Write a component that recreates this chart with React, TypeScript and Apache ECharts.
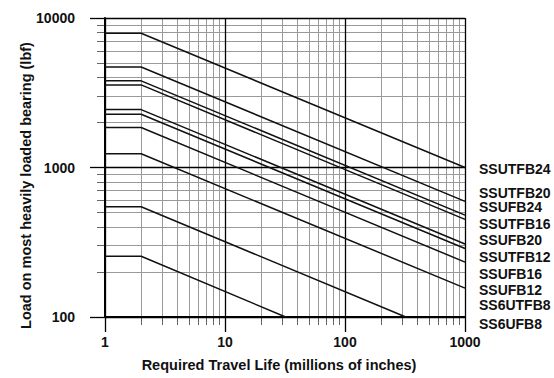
import { useEffect, useRef } from "react";
import * as echarts from "echarts";

// ---- data ----
const modelNames = [
  "SSUTFB24",
  "SSUTFB20",
  "SSUFB24",
  "SSUTFB16",
  "SSUFB20",
  "SSUTFB12",
  "SSUFB16",
  "SSUFB12",
  "SS6UTFB8",
  "SS6UFB8",
];
const startLife = 1; // millions of inches
const kneeLife = 2; // millions of inches
const flatLoad = [7900, 4700, 3800, 3570, 2440, 2270, 1850, 1235, 546, 255];
const endLife = [1000, 1000, 1000, 1000, 1000, 1000, 1000, 1000, 321, 32];
const endLoad = [1000, 594, 480, 450, 308, 287, 233, 156, 100, 100];

const xMinorTicks = [2, 3, 4, 5, 6, 7, 8, 9, 20, 30, 40, 50, 60, 70, 80, 90, 200, 300, 400, 500, 600, 700, 800, 900];
const yMinorTicks = [200, 300, 400, 500, 600, 700, 800, 900, 2000, 3000, 4000, 5000, 6000, 7000, 8000, 9000];

const xTitle = "Required Travel Life (millions of inches)";
const yTitle = "Load on most heavily loaded bearing (lbf)";

// ---- layout (pixel positions of the right-hand annotation labels) ----
const labelYPx = [168.5, 192.5, 207, 223.5, 240, 256.5, 274, 289.5, 304.5, 324];

const FONT = "'Liberation Sans', Arial, sans-serif";

export default function App() {
  const ref = useRef<HTMLDivElement>(null);

  useEffect(() => {
    if (!ref.current) return;
    const chart = echarts.init(ref.current, undefined, { renderer: "svg" });

    const grid = { left: 105, top: 18, width: 360, height: 299, containLabel: false };

    const series = modelNames.map((name, i) => ({
      type: "line" as const,
      name,
      xAxisIndex: 0,
      yAxisIndex: 0,
      showSymbol: false,
      symbol: "none",
      silent: true,
      z: 5,
      lineStyle: { color: "#111", width: 1.5 },
      data: [
        [startLife, flatLoad[i]],
        [kneeLife, flatLoad[i]],
        [endLife[i], endLoad[i]],
      ],
    }));

    const graphic: any[] = modelNames.map((name, i) => ({
      type: "text",
      x: 479,
      y: labelYPx[i],
      silent: true,
      style: {
        text: name,
        font: `bold 14px ${FONT}`,
        fill: "#111",
        textAlign: "left",
        textVerticalAlign: "middle",
      },
    }));
    graphic.push({
      type: "text",
      x: 279,
      y: 365,
      silent: true,
      style: {
        text: xTitle,
        font: `bold 14.5px ${FONT}`,
        fill: "#111",
        textAlign: "center",
        textVerticalAlign: "middle",
      },
    });
    graphic.push({
      type: "text",
      x: 26,
      y: 185.5,
      rotation: Math.PI / 2,
      silent: true,
      style: {
        text: yTitle,
        font: `bold 14.5px ${FONT}`,
        fill: "#111",
        textAlign: "center",
        textVerticalAlign: "middle",
      },
    });

    const plainNumber = (v: number) => String(Math.round(v));

    chart.setOption({
      animation: false,
      backgroundColor: "#fff",
      grid,
      xAxis: [
        {
          type: "log",
          logBase: 10,
          min: 1,
          max: 1000,
          position: "bottom",
          z: 1,
          axisLine: { show: true, lineStyle: { color: "#000", width: 2 } },
          axisTick: { show: true, length: 15, lineStyle: { color: "#000", width: 1.3 } },
          axisLabel: {
            show: true,
            margin: 18,
            color: "#111",
            fontFamily: FONT,
            fontWeight: "bold",
            fontSize: 14,
            formatter: plainNumber,
          },
          splitLine: { show: true, lineStyle: { color: "#000", width: 1.3 } },
        },
        {
          type: "log",
          logBase: 10,
          min: 1,
          max: 1000,
          position: "bottom",
          z: 0,
          axisLine: { show: false },
          axisTick: {
            show: true,
            length: 8,
            customValues: xMinorTicks,
            lineStyle: { color: "#666", width: 1 },
          },
          axisLabel: { show: false },
          splitLine: { show: true, lineStyle: { color: "#9a9a9a", width: 1 } },
        },
      ],
      yAxis: [
        {
          type: "log",
          logBase: 10,
          min: 100,
          max: 10000,
          position: "left",
          z: 1,
          axisLine: { show: true, lineStyle: { color: "#000", width: 2 } },
          axisTick: { show: true, length: 15, lineStyle: { color: "#000", width: 1.3 } },
          axisLabel: {
            show: true,
            margin: 30,
            color: "#111",
            fontFamily: FONT,
            fontWeight: "bold",
            fontSize: 14,
            formatter: plainNumber,
          },
          splitLine: { show: true, lineStyle: { color: "#000", width: 1.3 } },
        },
        {
          type: "log",
          logBase: 10,
          min: 100,
          max: 10000,
          position: "left",
          z: 0,
          axisLine: { show: false },
          axisTick: {
            show: true,
            length: 8,
            customValues: yMinorTicks,
            lineStyle: { color: "#666", width: 1 },
          },
          axisLabel: { show: false },
          splitLine: { show: true, lineStyle: { color: "#9a9a9a", width: 1 } },
        },
      ],
      series,
      graphic,
    });

    return () => chart.dispose();
  }, []);

  return (
    <div
      ref={ref}
      style={{ position: "fixed", left: 0, top: 0, width: 554, height: 378 }}
    />
  );
}
